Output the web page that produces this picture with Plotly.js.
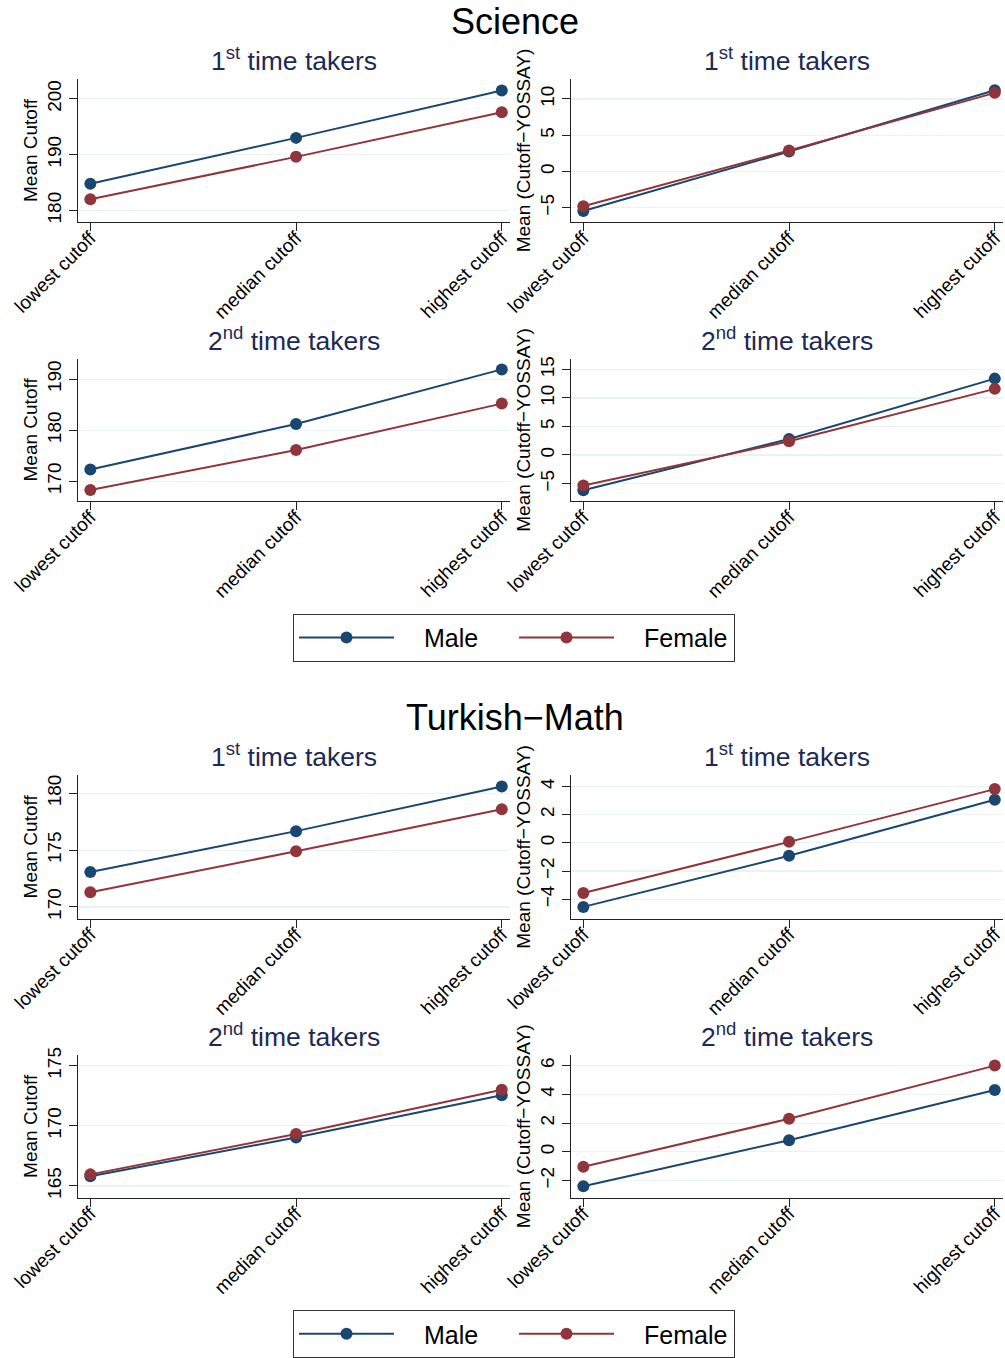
<!DOCTYPE html>
<html>
<head>
<meta charset="utf-8">
<script src="https://cdn.plot.ly/plotly-3.0.1.min.js"></script>
<style>html,body{margin:0;padding:0;background:#fff;}#chart{width:1005px;height:1358px;}</style>
</head>
<body>
<div id="chart"></div>
<script>
// ---- data ----
const categories = ["lowest cutoff", "median cutoff", "highest cutoff"];
const seriesNames = ["Male", "Female"];

// Science
const sci1Male = [184.8, 193.0, 201.5];
const sci1Female = [182.0, 189.6, 197.6];
const sci1DiffMale = [-5.45, 2.75, 11.2];
const sci1DiffFemale = [-4.8, 2.9, 10.85];
const sci2Male = [172.3, 181.2, 191.9];
const sci2Female = [168.3, 176.1, 185.2];
const sci2DiffMale = [-6.2, 2.8, 13.4];
const sci2DiffFemale = [-5.35, 2.4, 11.6];

// Turkish-Math
const tm1Male = [173.07, 176.67, 180.6];
const tm1Female = [171.29, 174.9, 178.6];
const tm1DiffMale = [-4.54, -0.92, 3.06];
const tm1DiffFemale = [-3.56, 0.07, 3.81];
const tm2Male = [165.8, 169.03, 172.54];
const tm2Female = [165.96, 169.31, 173.0];
const tm2DiffMale = [-2.39, 0.81, 4.3];
const tm2DiffFemale = [-1.04, 2.3, 6.0];

const panelTitles = ["1<sup>st</sup> time takers", "1<sup>st</sup> time takers", "2<sup>nd</sup> time takers", "2<sup>nd</sup> time takers",
                     "1<sup>st</sup> time takers", "1<sup>st</sup> time takers", "2<sup>nd</sup> time takers", "2<sup>nd</sup> time takers"];
const mainTitles = ["Science", "Turkish\u2212Math"];
const yTitles = ["Mean Cutoff", "Mean (Cutoff\u2212YOSSAY)"];

// ---- styling / layout ----
const FONT = "Liberation Sans, Arial, Helvetica, sans-serif";
const colors = ["#1a476f", "#90353b"];
const H = 1358, W = 1005;

const panels = [
  {m: sci1Male, f: sci1Female, range: [177.9, 203.6], dtick: 10, col: 0, top: 79, bot: 223, legend: "legend"},
  {m: sci1DiffMale, f: sci1DiffFemale, range: [-7.0, 12.8], dtick: 5, col: 1, top: 79, bot: 223},
  {m: sci2Male, f: sci2Female, range: [166.1, 194.0], dtick: 10, col: 0, top: 360, bot: 503},
  {m: sci2DiffMale, f: sci2DiffFemale, range: [-8.1, 16.9], dtick: 5, col: 1, top: 360, bot: 503},
  {m: tm1Male, f: tm1Female, range: [168.97, 181.6], dtick: 5, col: 0, top: 778, bot: 922, legend: "legend2"},
  {m: tm1DiffMale, f: tm1DiffFemale, range: [-5.37, 4.8], dtick: 2, col: 1, top: 778, bot: 922},
  {m: tm2Male, f: tm2Female, range: [164.03, 175.88], dtick: 5, col: 0, top: 1059, bot: 1202},
  {m: tm2DiffMale, f: tm2DiffFemale, range: [-3.18, 6.73], dtick: 2, col: 1, top: 1059, bot: 1202}
];
const colX = [[78, 510], [571, 1003]];

const legendBase = {
  x: 293 / W, xanchor: "left", yanchor: "top",
  orientation: "h", bordercolor: "#333", borderwidth: 1,
  font: {size: 25, family: FONT, color: "#000"},
  itemwidth: 95, entrywidth: 110, bgcolor: "#fff", traceorder: "normal"
};

const data = [];
const layout = {
  width: W, height: H,
  margin: {l: 0, r: 0, t: 0, b: 0},
  paper_bgcolor: "#ffffff",
  plot_bgcolor: "#ffffff",
  font: {family: FONT, color: "#000"},
  showlegend: true,
  annotations: [],
  legend: Object.assign({}, legendBase, {y: 1 - 616 / H}),
  legend2: Object.assign({}, legendBase, {y: 1 - 1315 / H})
};

panels.forEach((p, i) => {
  const n = i + 1;
  const xa = n === 1 ? "xaxis" : "xaxis" + n;
  const ya = n === 1 ? "yaxis" : "yaxis" + n;
  const xr = n === 1 ? "x" : "x" + n;
  const yr = n === 1 ? "y" : "y" + n;
  [p.m, p.f].forEach((vals, s) => {
    data.push({
      type: "scatter", mode: "lines+markers",
      x: categories, y: vals, name: "\u2003" + seriesNames[s],
      xaxis: xr, yaxis: yr,
      line: {color: colors[s], width: 2},
      marker: {color: colors[s], size: 12},
      showlegend: !!p.legend,
      legend: p.legend || "legend",
      hoverinfo: "x+y"
    });
  });
  const cx = colX[p.col];
  layout[xa] = {
    domain: [cx[0] / W, cx[1] / W], anchor: yr,
    type: "category", range: [-0.06, 2.04],
    tickangle: -45, ticks: "outside", ticklen: 8, tickcolor: "#222",
    ticklabelstandoff: -12,
    showline: true, linecolor: "#222", linewidth: 1.3,
    showgrid: false, zeroline: false,
    tickfont: {size: 19, family: FONT, color: "#000"}
  };
  layout[ya] = {
    domain: [1 - p.bot / H, 1 - p.top / H], anchor: xr,
    range: p.range, tick0: 0, dtick: p.dtick,
    tickangle: -90, ticks: "outside", ticklen: 8, tickcolor: "#222",
    showline: true, linecolor: "#222", linewidth: 1.3,
    showgrid: true, gridcolor: "#eaf2f3", gridwidth: 1.2,
    zeroline: false,
    tickfont: {size: 19, family: FONT, color: "#000"},
    title: {text: yTitles[p.col], font: {size: 19, family: FONT, color: "#000"}, standoff: 1}
  };
  layout.annotations.push({
    text: panelTitles[i], showarrow: false,
    xref: "paper", yref: "paper",
    x: ((cx[0] + cx[1]) / 2) / W, y: 1 - (p.top - 20) / H,
    xanchor: "center", yanchor: "middle",
    font: {size: 26.5, family: FONT, color: "#1c2a55"}
  });
});

[[22, 0], [720, 1]].forEach(([yc, k]) => {
  layout.annotations.push({
    text: mainTitles[k], showarrow: false,
    xref: "paper", yref: "paper",
    x: 515 / W, y: 1 - yc / H, xanchor: "center", yanchor: "middle",
    font: {size: 36, family: FONT, color: "#000"}
  });
});

Plotly.newPlot("chart", data, layout, {displayModeBar: false, staticPlot: true});
</script>
</body>
</html>
